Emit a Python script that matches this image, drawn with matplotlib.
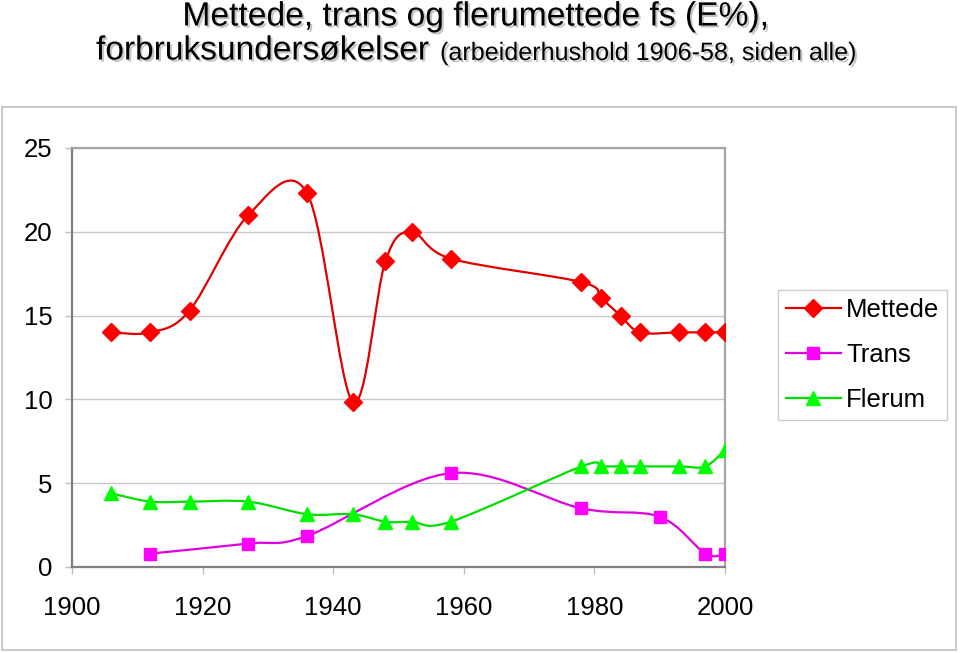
import matplotlib
matplotlib.use("Agg")
import matplotlib.pyplot as plt
from matplotlib.path import Path
from matplotlib.patches import PathPatch, Rectangle
from matplotlib.lines import Line2D
import matplotlib.patheffects as pe

plt.rcParams['font.family'] = ['Liberation Sans', 'DejaVu Sans']

# ---- data ----
mettede_years = [1906, 1912, 1918, 1927, 1936, 1943, 1948, 1952, 1958, 1978, 1981, 1984, 1987, 1993, 1997, 2000]
mettede_vals = [14.0, 14.0, 15.3, 21.0, 22.3, 9.85, 18.25, 20.0, 18.4, 17.0, 16.05, 15.0, 14.0, 14.0, 14.0, 14.0]

trans_years = [1912, 1927, 1936, 1958, 1978, 1990, 1997, 2000]
trans_vals = [0.8, 1.4, 1.85, 5.6, 3.5, 3.0, 0.8, 0.8]

flerum_years = [1906, 1912, 1918, 1927, 1936, 1943, 1948, 1952, 1958, 1978, 1981, 1984, 1987, 1993, 1997, 2000]
flerum_vals = [4.4, 3.9, 3.9, 3.9, 3.15, 3.15, 2.7, 2.7, 2.7, 6.0, 6.0, 6.0, 6.0, 6.0, 6.0, 7.0]

series_names = ["Mettede", "Trans", "Flerum"]
x_ticks = [1900, 1920, 1940, 1960, 1980, 2000]
y_ticks = [0, 5, 10, 15, 20, 25]

W, H = 960, 653
fig = plt.figure(figsize=(W / 100, H / 100), dpi=100)

# outer chart border
fig.patches.append(Rectangle((2 / W, (H - 650) / H), 954 / W, 543 / H,
                             transform=fig.transFigure, fill=False,
                             edgecolor='#c0c0c0', linewidth=1.2))

ax = fig.add_axes([72 / W, (H - 567) / H, (725 - 72) / W, (567 - 148) / H])


def smooth_path(xs, ys):
    pts = list(zip(xs, ys))
    n = len(pts)
    verts = [pts[0]]
    codes = [Path.MOVETO]
    for i in range(n - 1):
        p0 = pts[i - 1] if i > 0 else pts[i]
        p1 = pts[i]
        p2 = pts[i + 1]
        p3 = pts[i + 2] if i + 2 < n else pts[i + 1]
        c1 = (p1[0] + (p2[0] - p0[0]) / 6, p1[1] + (p2[1] - p0[1]) / 6)
        c2 = (p2[0] - (p3[0] - p1[0]) / 6, p2[1] - (p3[1] - p1[1]) / 6)
        verts += [c1, c2, p2]
        codes += [Path.CURVE4] * 3
    return Path(verts, codes)


styles = [
    (mettede_years, mettede_vals, '#ff0000', '#e00000', 'D', 9),
    (trans_years, trans_vals, '#ff00ff', '#e000e0', 's', 8.5),
    (flerum_years, flerum_vals, '#00ff00', '#00dd00', '^', 10),
]

handles = []
for (xs, ys, col, lcol, mk, ms), name in zip(styles, series_names):
    ax.add_patch(PathPatch(smooth_path(xs, ys), fill=False, edgecolor=lcol,
                           linewidth=1.6, zorder=3))
    ax.plot(xs, ys, linestyle='none', marker=mk, markersize=ms,
            color=col, markeredgecolor=col, zorder=4)
    handles.append(Line2D([], [], color=lcol, linewidth=1.6, marker=mk,
                          markersize=ms, markerfacecolor=col,
                          markeredgecolor=col, label=name))

ax.set_xlim(1900, 2000)
ax.set_ylim(0, 25)
ax.set_xticks(x_ticks)
ax.set_yticks(y_ticks)
ax.set_xticklabels([str(v) for v in x_ticks])
ax.set_yticklabels([str(v) for v in y_ticks])

ax.grid(axis='y', color='#c8c8c8', linewidth=1.0, zorder=0)
ax.set_axisbelow(True)
for s in ['left', 'bottom']:
    ax.spines[s].set_color('#7f7f7f')
    ax.spines[s].set_linewidth(1.6)
for s in ['top', 'right']:
    ax.spines[s].set_color('#a6a6a6')
    ax.spines[s].set_linewidth(1.6)

ax.tick_params(axis='x', direction='out', length=5, width=1, color='#c0c0c0',
               pad=16, labelsize=18.5)
ax.tick_params(axis='y', direction='out', length=5, width=1, color='#c0c0c0',
               pad=9, labelsize=18.5)

leg = fig.legend(handles=handles, loc='upper left',
                 bbox_to_anchor=(778 / W, (H - 290) / H),
                 fontsize=18.5, frameon=True, fancybox=False,
                 edgecolor='#c0c0c0', handlelength=2.15, handletextpad=0.2,
                 labelspacing=0.82, borderpad=0.3, borderaxespad=0)
leg.get_frame().set_linewidth(1.0)

shadow = [pe.withSimplePatchShadow(offset=(1.5, -1.5), shadow_rgbFace='#808080', alpha=0.45)]
fig.text(0.5 * (183 + 768) / W, 1 - 17 / H, "Mettede, trans og flerumettede fs (E%),",
         ha='center', va='center', fontsize=24.2, path_effects=shadow)
fig.text(96 / W, 1 - 51 / H, "forbruksundersøkelser", ha='left', va='center',
         fontsize=24.1, path_effects=shadow)
fig.text(440 / W, 1 - 53 / H, "(arbeiderhushold 1906-58, siden alle)", ha='left',
         va='center', fontsize=18.1, path_effects=shadow)

fig.savefig("out.png", dpi=100)
